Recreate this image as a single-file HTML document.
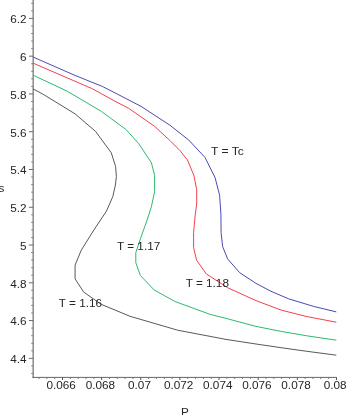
<!DOCTYPE html><html><head><meta charset="utf-8"><title>plot</title><style>html,body{margin:0;padding:0;background:#fff;}svg{display:block;will-change:transform;filter:blur(0.3px);}text{font-family:"Liberation Sans",sans-serif;font-size:10.6px;fill:#262626;}</style></head><body>
<svg width="346" height="415" viewBox="0 0 346 415">
<rect width="346" height="415" fill="#fff"/>
<line x1="33.2" y1="0" x2="33.2" y2="377.9" stroke="#929292" stroke-width="1.6"/>
<line x1="32.5" y1="377.4" x2="336.8" y2="377.4" stroke="#555" stroke-width="0.9"/>
<line x1="31.2" y1="3.29" x2="33.2" y2="3.29" stroke="#808080" stroke-width="1"/>
<line x1="31.2" y1="10.85" x2="33.2" y2="10.85" stroke="#808080" stroke-width="1"/>
<line x1="28.9" y1="18.40" x2="33.2" y2="18.40" stroke="#6a6a6a" stroke-width="1"/>
<text transform="translate(26.60,23.30) scale(1.110,1)" text-anchor="end">6.2</text>
<line x1="31.2" y1="25.95" x2="33.2" y2="25.95" stroke="#808080" stroke-width="1"/>
<line x1="31.2" y1="33.51" x2="33.2" y2="33.51" stroke="#808080" stroke-width="1"/>
<line x1="31.2" y1="41.06" x2="33.2" y2="41.06" stroke="#808080" stroke-width="1"/>
<line x1="31.2" y1="48.62" x2="33.2" y2="48.62" stroke="#808080" stroke-width="1"/>
<line x1="28.9" y1="56.17" x2="33.2" y2="56.17" stroke="#6a6a6a" stroke-width="1"/>
<text transform="translate(26.60,61.07) scale(1.110,1)" text-anchor="end">6</text>
<line x1="31.2" y1="63.72" x2="33.2" y2="63.72" stroke="#808080" stroke-width="1"/>
<line x1="31.2" y1="71.28" x2="33.2" y2="71.28" stroke="#808080" stroke-width="1"/>
<line x1="31.2" y1="78.83" x2="33.2" y2="78.83" stroke="#808080" stroke-width="1"/>
<line x1="31.2" y1="86.39" x2="33.2" y2="86.39" stroke="#808080" stroke-width="1"/>
<line x1="28.9" y1="93.94" x2="33.2" y2="93.94" stroke="#6a6a6a" stroke-width="1"/>
<text transform="translate(26.60,98.84) scale(1.110,1)" text-anchor="end">5.8</text>
<line x1="31.2" y1="101.49" x2="33.2" y2="101.49" stroke="#808080" stroke-width="1"/>
<line x1="31.2" y1="109.05" x2="33.2" y2="109.05" stroke="#808080" stroke-width="1"/>
<line x1="31.2" y1="116.60" x2="33.2" y2="116.60" stroke="#808080" stroke-width="1"/>
<line x1="31.2" y1="124.16" x2="33.2" y2="124.16" stroke="#808080" stroke-width="1"/>
<line x1="28.9" y1="131.71" x2="33.2" y2="131.71" stroke="#6a6a6a" stroke-width="1"/>
<text transform="translate(26.60,136.61) scale(1.110,1)" text-anchor="end">5.6</text>
<line x1="31.2" y1="139.26" x2="33.2" y2="139.26" stroke="#808080" stroke-width="1"/>
<line x1="31.2" y1="146.82" x2="33.2" y2="146.82" stroke="#808080" stroke-width="1"/>
<line x1="31.2" y1="154.37" x2="33.2" y2="154.37" stroke="#808080" stroke-width="1"/>
<line x1="31.2" y1="161.93" x2="33.2" y2="161.93" stroke="#808080" stroke-width="1"/>
<line x1="28.9" y1="169.48" x2="33.2" y2="169.48" stroke="#6a6a6a" stroke-width="1"/>
<text transform="translate(26.60,174.38) scale(1.110,1)" text-anchor="end">5.4</text>
<line x1="31.2" y1="177.03" x2="33.2" y2="177.03" stroke="#808080" stroke-width="1"/>
<line x1="31.2" y1="184.59" x2="33.2" y2="184.59" stroke="#808080" stroke-width="1"/>
<line x1="31.2" y1="192.14" x2="33.2" y2="192.14" stroke="#808080" stroke-width="1"/>
<line x1="31.2" y1="199.70" x2="33.2" y2="199.70" stroke="#808080" stroke-width="1"/>
<line x1="28.9" y1="207.25" x2="33.2" y2="207.25" stroke="#6a6a6a" stroke-width="1"/>
<text transform="translate(26.60,212.15) scale(1.110,1)" text-anchor="end">5.2</text>
<line x1="31.2" y1="214.80" x2="33.2" y2="214.80" stroke="#808080" stroke-width="1"/>
<line x1="31.2" y1="222.36" x2="33.2" y2="222.36" stroke="#808080" stroke-width="1"/>
<line x1="31.2" y1="229.91" x2="33.2" y2="229.91" stroke="#808080" stroke-width="1"/>
<line x1="31.2" y1="237.47" x2="33.2" y2="237.47" stroke="#808080" stroke-width="1"/>
<line x1="28.9" y1="245.02" x2="33.2" y2="245.02" stroke="#6a6a6a" stroke-width="1"/>
<text transform="translate(26.60,249.92) scale(1.110,1)" text-anchor="end">5</text>
<line x1="31.2" y1="252.57" x2="33.2" y2="252.57" stroke="#808080" stroke-width="1"/>
<line x1="31.2" y1="260.13" x2="33.2" y2="260.13" stroke="#808080" stroke-width="1"/>
<line x1="31.2" y1="267.68" x2="33.2" y2="267.68" stroke="#808080" stroke-width="1"/>
<line x1="31.2" y1="275.24" x2="33.2" y2="275.24" stroke="#808080" stroke-width="1"/>
<line x1="28.9" y1="282.79" x2="33.2" y2="282.79" stroke="#6a6a6a" stroke-width="1"/>
<text transform="translate(26.60,287.69) scale(1.110,1)" text-anchor="end">4.8</text>
<line x1="31.2" y1="290.34" x2="33.2" y2="290.34" stroke="#808080" stroke-width="1"/>
<line x1="31.2" y1="297.90" x2="33.2" y2="297.90" stroke="#808080" stroke-width="1"/>
<line x1="31.2" y1="305.45" x2="33.2" y2="305.45" stroke="#808080" stroke-width="1"/>
<line x1="31.2" y1="313.01" x2="33.2" y2="313.01" stroke="#808080" stroke-width="1"/>
<line x1="28.9" y1="320.56" x2="33.2" y2="320.56" stroke="#6a6a6a" stroke-width="1"/>
<text transform="translate(26.60,325.46) scale(1.110,1)" text-anchor="end">4.6</text>
<line x1="31.2" y1="328.11" x2="33.2" y2="328.11" stroke="#808080" stroke-width="1"/>
<line x1="31.2" y1="335.67" x2="33.2" y2="335.67" stroke="#808080" stroke-width="1"/>
<line x1="31.2" y1="343.22" x2="33.2" y2="343.22" stroke="#808080" stroke-width="1"/>
<line x1="31.2" y1="350.78" x2="33.2" y2="350.78" stroke="#808080" stroke-width="1"/>
<line x1="28.9" y1="358.33" x2="33.2" y2="358.33" stroke="#6a6a6a" stroke-width="1"/>
<text transform="translate(26.60,363.23) scale(1.110,1)" text-anchor="end">4.4</text>
<line x1="31.2" y1="365.88" x2="33.2" y2="365.88" stroke="#808080" stroke-width="1"/>
<line x1="31.2" y1="373.44" x2="33.2" y2="373.44" stroke="#808080" stroke-width="1"/>
<line x1="39.02" y1="377.4" x2="39.02" y2="379.0" stroke="#777" stroke-width="1"/>
<line x1="46.84" y1="377.4" x2="46.84" y2="379.0" stroke="#777" stroke-width="1"/>
<line x1="54.67" y1="377.4" x2="54.67" y2="379.0" stroke="#777" stroke-width="1"/>
<line x1="62.50" y1="377.4" x2="62.50" y2="380.0" stroke="#555" stroke-width="1"/>
<text transform="translate(61.20,389.20) scale(1.110,1)" text-anchor="middle">0.066</text>
<line x1="70.33" y1="377.4" x2="70.33" y2="379.0" stroke="#777" stroke-width="1"/>
<line x1="78.16" y1="377.4" x2="78.16" y2="379.0" stroke="#777" stroke-width="1"/>
<line x1="85.98" y1="377.4" x2="85.98" y2="379.0" stroke="#777" stroke-width="1"/>
<line x1="93.81" y1="377.4" x2="93.81" y2="379.0" stroke="#777" stroke-width="1"/>
<line x1="101.64" y1="377.4" x2="101.64" y2="380.0" stroke="#555" stroke-width="1"/>
<text transform="translate(100.34,389.20) scale(1.110,1)" text-anchor="middle">0.068</text>
<line x1="109.47" y1="377.4" x2="109.47" y2="379.0" stroke="#777" stroke-width="1"/>
<line x1="117.30" y1="377.4" x2="117.30" y2="379.0" stroke="#777" stroke-width="1"/>
<line x1="125.12" y1="377.4" x2="125.12" y2="379.0" stroke="#777" stroke-width="1"/>
<line x1="132.95" y1="377.4" x2="132.95" y2="379.0" stroke="#777" stroke-width="1"/>
<line x1="140.78" y1="377.4" x2="140.78" y2="380.0" stroke="#555" stroke-width="1"/>
<text transform="translate(139.48,389.20) scale(1.110,1)" text-anchor="middle">0.07</text>
<line x1="148.61" y1="377.4" x2="148.61" y2="379.0" stroke="#777" stroke-width="1"/>
<line x1="156.44" y1="377.4" x2="156.44" y2="379.0" stroke="#777" stroke-width="1"/>
<line x1="164.26" y1="377.4" x2="164.26" y2="379.0" stroke="#777" stroke-width="1"/>
<line x1="172.09" y1="377.4" x2="172.09" y2="379.0" stroke="#777" stroke-width="1"/>
<line x1="179.92" y1="377.4" x2="179.92" y2="380.0" stroke="#555" stroke-width="1"/>
<text transform="translate(178.62,389.20) scale(1.110,1)" text-anchor="middle">0.072</text>
<line x1="187.75" y1="377.4" x2="187.75" y2="379.0" stroke="#777" stroke-width="1"/>
<line x1="195.58" y1="377.4" x2="195.58" y2="379.0" stroke="#777" stroke-width="1"/>
<line x1="203.40" y1="377.4" x2="203.40" y2="379.0" stroke="#777" stroke-width="1"/>
<line x1="211.23" y1="377.4" x2="211.23" y2="379.0" stroke="#777" stroke-width="1"/>
<line x1="219.06" y1="377.4" x2="219.06" y2="380.0" stroke="#555" stroke-width="1"/>
<text transform="translate(217.76,389.20) scale(1.110,1)" text-anchor="middle">0.074</text>
<line x1="226.89" y1="377.4" x2="226.89" y2="379.0" stroke="#777" stroke-width="1"/>
<line x1="234.72" y1="377.4" x2="234.72" y2="379.0" stroke="#777" stroke-width="1"/>
<line x1="242.54" y1="377.4" x2="242.54" y2="379.0" stroke="#777" stroke-width="1"/>
<line x1="250.37" y1="377.4" x2="250.37" y2="379.0" stroke="#777" stroke-width="1"/>
<line x1="258.20" y1="377.4" x2="258.20" y2="380.0" stroke="#555" stroke-width="1"/>
<text transform="translate(256.90,389.20) scale(1.110,1)" text-anchor="middle">0.076</text>
<line x1="266.03" y1="377.4" x2="266.03" y2="379.0" stroke="#777" stroke-width="1"/>
<line x1="273.86" y1="377.4" x2="273.86" y2="379.0" stroke="#777" stroke-width="1"/>
<line x1="281.68" y1="377.4" x2="281.68" y2="379.0" stroke="#777" stroke-width="1"/>
<line x1="289.51" y1="377.4" x2="289.51" y2="379.0" stroke="#777" stroke-width="1"/>
<line x1="297.34" y1="377.4" x2="297.34" y2="380.0" stroke="#555" stroke-width="1"/>
<text transform="translate(296.04,389.20) scale(1.110,1)" text-anchor="middle">0.078</text>
<line x1="305.17" y1="377.4" x2="305.17" y2="379.0" stroke="#777" stroke-width="1"/>
<line x1="313.00" y1="377.4" x2="313.00" y2="379.0" stroke="#777" stroke-width="1"/>
<line x1="320.82" y1="377.4" x2="320.82" y2="379.0" stroke="#777" stroke-width="1"/>
<line x1="328.65" y1="377.4" x2="328.65" y2="379.0" stroke="#777" stroke-width="1"/>
<line x1="336.48" y1="377.4" x2="336.48" y2="380.1" stroke="#555" stroke-width="1"/>
<text transform="translate(335.18,389.20) scale(1.110,1)" text-anchor="middle">0.08</text>
<polyline fill="none" stroke="#4a4ab4" stroke-width="1.0" stroke-linejoin="round" points="33.0,57.0 75.0,75.4 102.5,86.5 116.0,93.4 141.1,106.4 169.9,125.2 188.8,140.1 205.1,157.6 215.1,177.7 219.6,195.2 220.9,214.0 221.1,232.6 222.6,246.4 227.6,258.9 239.7,272.7 256.0,283.4 271.0,291.3 288.6,298.8 313.6,306.4 336.3,311.9"/>
<polyline fill="none" stroke="#f4404c" stroke-width="1.0" stroke-linejoin="round" points="33.0,63.1 92.7,88.9 116.0,101.8 128.5,108.2 154.8,126.5 170.0,140.6 180.0,150.6 187.5,160.1 193.8,175.2 196.7,189.5 196.7,204.0 195.2,215.0 193.6,232.6 193.6,247.6 196.6,260.2 206.3,273.9 227.6,287.7 256.0,300.6 281.1,310.1 306.1,316.4 336.3,322.2"/>
<polyline fill="none" stroke="#2cba6e" stroke-width="1.0" stroke-linejoin="round" points="33.0,75.1 67.6,91.4 101.4,111.4 116.0,122.2 126.0,129.5 138.9,143.8 151.4,162.8 154.6,175.3 154.6,191.6 151.4,206.7 147.1,220.0 140.4,238.8 135.8,252.6 135.8,262.6 140.4,275.5 154.2,290.0 175.2,301.6 210.2,314.4 226.0,318.4 256.0,326.4 281.1,331.4 306.1,335.7 336.3,340.2"/>
<polyline fill="none" stroke="#505050" stroke-width="0.95" stroke-linejoin="round" points="33.0,88.9 42.5,93.9 75.1,113.9 95.7,131.5 104.8,144.0 111.3,152.8 115.6,166.6 116.4,176.6 115.4,185.0 112.8,196.6 106.5,211.0 93.9,230.0 81.3,250.1 75.1,265.1 75.1,278.9 83.8,292.2 101.4,304.4 130.0,316.3 155.1,323.6 177.6,330.2 226.0,339.4 256.0,344.0 281.1,347.7 306.1,351.2 336.3,355.2"/>
<text transform="translate(211.00,155.00) scale(1.140,1)" text-anchor="start">T = Tc</text>
<text transform="translate(185.70,287.30) scale(1.110,1)" text-anchor="start">T = 1.18</text>
<text transform="translate(117.00,250.20) scale(1.110,1)" text-anchor="start">T = 1.17</text>
<text transform="translate(58.80,306.90) scale(1.110,1)" text-anchor="start">T = 1.16</text>
<text transform="translate(-1.40,192.10) scale(1.110,1)" text-anchor="start">s</text>
<text transform="translate(185.00,415.90) scale(1.110,1)" text-anchor="middle">P</text>
</svg></body></html>
